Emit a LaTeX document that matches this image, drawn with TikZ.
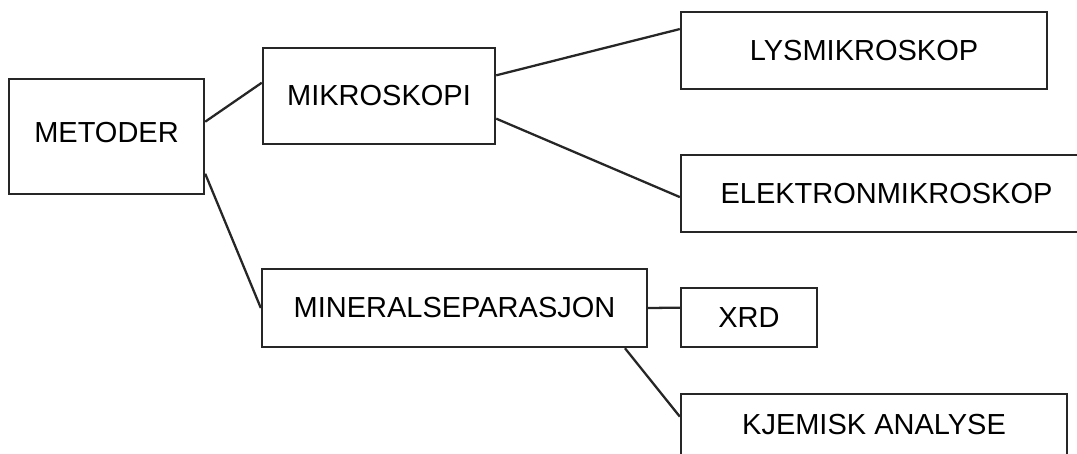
\documentclass[tikz,border=0pt]{standalone}
\usepackage{fontspec}
\setmainfont{Liberation Sans}
\usetikzlibrary{calc}

\begin{document}
\begin{tikzpicture}[x=0.02cm, y=-0.02cm,
  boks/.style={draw=black!85, line width=1.4pt, inner sep=0pt, align=center,
    font=\fontsize{16.5}{20}\selectfont},
  linje/.style={draw=black!85, line width=1.3pt}]
\useasboundingbox (0,0) rectangle (1077,453); % Bildeflate
\clip (0,0) rectangle (1077,453);

%% Boksene %%%%%%%%%%%%%%%%%%%%%%%%%%%%%%%%%%%%%
\node[boks, minimum width=3.9cm,  minimum height=2.3cm]  (metoder)  at (106.5,136.5) {\raisebox{0.16cm}{METODER}};
\node[boks, minimum width=4.64cm, minimum height=1.92cm] (mikro)    at (379,96)      {MIKROSKOPI};
\node[boks, minimum width=7.32cm, minimum height=1.54cm] (lys)      at (864,50.5)    {LYSMIKROSKOP};
\node[boks, minimum width=8.22cm, minimum height=1.54cm] (elektron) at (886.5,193.5) {ELEKTRONMIKROSKOP};
\node[boks, minimum width=7.7cm,  minimum height=1.56cm] (mineral)  at (454.5,308)   {MINERALSEPARASJON};
\node[boks, minimum width=2.72cm, minimum height=1.18cm] (xrd)      at (749,317.5)   {XRD};
\node[boks, minimum width=7.72cm, minimum height=1.24cm] (kjemisk)  at (874,425)     {KJEMISK ANALYSE};

%% Strekene %%%%%%%%%%%%%%%%%%%%%%%%%%%%%%%%%%%%
\draw[linje] ($(metoder.north east)!0.374!(metoder.south east)$) -- ($(mikro.north west)!0.365!(mikro.south west)$);
\draw[linje] ($(metoder.north east)!0.817!(metoder.south east)$) -- (mineral.west);
\draw[linje] ($(mikro.north east)!0.29!(mikro.south east)$) -- ($(lys.north west)!0.23!(lys.south west)$);
\draw[linje] ($(mikro.north east)!0.73!(mikro.south east)$) -- ($(elektron.north west)!0.545!(elektron.south west)$);
\draw[linje] (mineral.east) -- ($(xrd.north west)!0.34!(xrd.south west)$);
\draw[linje] ($(mineral.south west)!0.94!(mineral.south east)$) -- ($(kjemisk.north west)!0.37!(kjemisk.south west)$);
\end{tikzpicture}
\end{document}
